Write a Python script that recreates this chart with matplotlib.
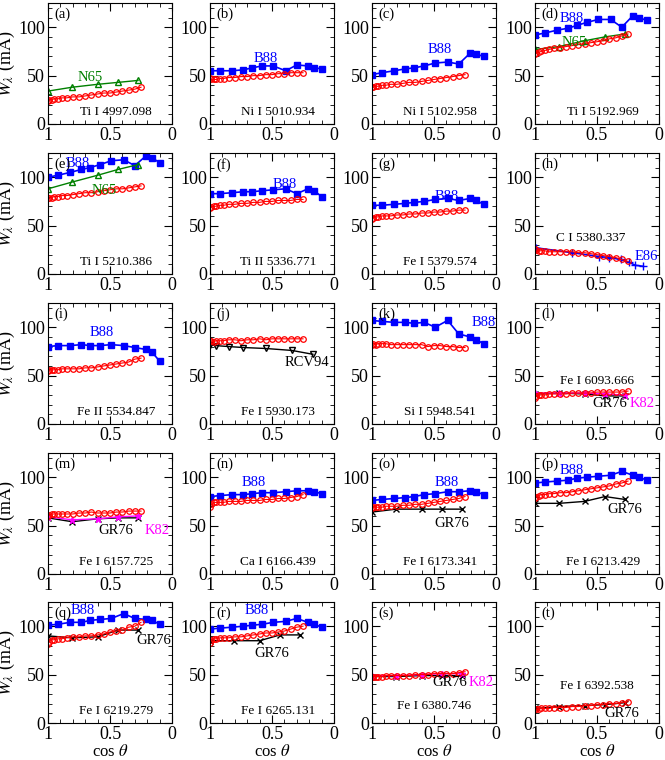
import matplotlib
matplotlib.use("Agg")
import matplotlib.pyplot as plt
from matplotlib.ticker import MultipleLocator

plt.rcParams['font.family'] = ['Liberation Serif', 'DejaVu Serif']
plt.rcParams['mathtext.fontset'] = 'stix'

mu_red = [1.0,0.99,0.97,0.95,0.92,0.89,0.85,0.8,0.75,0.7,0.65,0.6,0.55,0.5,0.45,0.4,0.35,0.3,0.25]
mu_b88 = [1.0,0.92,0.82,0.73,0.66,0.58,0.49,0.39,0.3,0.21,0.16,0.1]
mu_gr = [1.0,0.805,0.6,0.435,0.274]
mu_rcv = [1.0,0.955,0.85,0.73,0.55,0.34,0.17]
mu_e86 = [0.99,0.7,0.48,0.4,0.31,0.24,0.19,0.13]

letters = list("abcdefghijklmnopqrst")
line_ids = ["Ti I 4997.098","Ni I 5010.934","Ni I 5102.958","Ti I 5192.969",
            "Ti I 5210.386","Ti II 5336.771","Fe I 5379.574","C I 5380.337",
            "Fe II 5534.847","Fe I 5930.173","Si I 5948.541","Fe I 6093.666",
            "Fe I 6157.725","Ca I 6166.439","Fe I 6173.341","Fe I 6213.429",
            "Fe I 6219.279","Fe I 6265.131","Fe I 6380.746","Fe I 6392.538"]

red = {
 'a':[24,25,25,26,26,27,27,28,28,29,30,31,32,32,33,34,35,36,38],
 'b':[48,46,46,46,47,47,48,48,49,49,50,50,51,51,52,52,53,53,53],
 'c':[38,38,39,39,40,40,41,41,42,43,43,44,45,46,47,48,49,50,51],
 'd':[72,73,74,75,76,77,78,79,80,81,82,83,84,85,86,88,89,91,93],
 'e':[78,78,79,80,80,81,81,82,83,84,84,85,86,87,88,88,89,90,91],
 'f':[68,69,70,70,71,71,72,72,73,73,74,74,75,75,76,76,76,77,77],
 'g':[57,58,59,59,60,60,60,61,61,62,62,63,63,64,64,65,65,66,66],
 'h':[26,25,24,24,24,23,23,23,23,23,22,22,21,20,19,18,17,15,13],
 'i':[55,56,56,56,56,57,57,57,57,58,58,59,60,61,62,63,64,67,68],
 'j':[86,86,85,86,86,86,87,87,86,87,87,88,87,88,88,88,88,88,88],
 'k':[82,83,82,83,83,83,82,82,82,82,82,82,80,81,81,80,80,79,79],
 'l':[27,29,30,30,30,31,31,31,31,32,32,32,32,33,33,33,33,33,34],
 'm':[60,61,62,62,62,62,62,62,63,63,64,63,63,63,64,64,65,65,65],
 'n':[69,72,74,74,74,74,75,75,75,76,76,76,77,77,78,78,79,80,82],
 'o':[68,69,69,69,69,70,70,70,71,71,72,72,73,74,75,76,77,78,80],
 'p':[78,80,81,82,82,83,83,84,84,85,86,87,88,89,90,91,93,94,96],
 'q':[82,84,86,86,87,87,88,89,89,90,90,91,92,94,95,96,99,100,104],
 'r':[83,86,87,87,88,88,88,89,89,90,91,92,93,93,94,95,97,99,100],
 's':[48,48,48,48,48,49,49,49,49,49,50,50,50,51,51,51,51,52,53],
 't':[14,14,14,15,15,15,16,16,16,17,17,18,18,19,19,20,20,21,22],
}
b88 = {
 'b':[55,55,55,56,58,60,60,55,61,60,58,57],
 'c':[51,53,55,57,58,60,63,64,62,73,72,70],
 'd':[92,94,97,99,102,105,108,108,100,112,110,107],
 'e':[100,102,105,108,110,113,117,118,112,122,120,115],
 'f':[83,83,84,85,85,86,87,88,83,88,86,80],
 'g':[71,71,72,73,74,75,77,78,76,78,76,72],
 'i':[80,81,81,82,81,81,82,81,79,77,74,65],
 'k':[107,106,105,105,104,105,100,107,93,90,87,83],
 'n':[80,81,82,82,83,84,84,85,86,86,85,83],
 'o':[76,77,78,79,80,82,83,85,85,86,85,82],
 'p':[94,95,96,97,99,100,101,102,106,102,100,97],
 'q':[101,102,104,104,106,107,108,113,108,107,106,102],
 'r':[97,98,99,100,101,102,104,105,108,104,102,99],
}
n65 = {'a':[34,38,41,43,45], 'd':[77,80,86,90,93], 'e':[88,95,102,108,113]}
gr76 = {'l':[31,32,31,29,29], 'm':[58,54,57,58,58], 'o':[64,67,67,67,67],
        'p':[73,73,75,80,77], 'q':[90,88,89,96,96], 'r':[85,85,85,91,91],
        's':[48,48,49,49,49], 't':[15,17,18,19,21]}
k82 = {'l':[32,32,32,31,30], 'm':[59,56,57,59,60], 's':[49,49,50,51,51]}
rcv94 = {'j':[82,81,80,79,78,76,72]}
e86 = {'h':[27,22,18,17,15,12,9,8]}

labels = {
 'a':[("N65",0.66,48,'green')], 'b':[("B88",0.55,68,'blue')],
 'c':[("B88",0.45,77,'blue')], 'd':[("B88",0.7,109,'blue'),("N65",0.68,84,'green')],
 'e':[("B88",0.76,114,'blue'),("N65",0.55,86,'green')], 'f':[("B88",0.4,92,'blue')],
 'g':[("B88",0.4,80,'blue')], 'h':[("E86",0.1,18,'blue')],
 'i':[("B88",0.57,95,'blue')], 'j':[("RCV94",0.22,64,'black')],
 'k':[("B88",0.1,105,'blue')], 'l':[("GR76",0.4,21,'black'),("K82",0.14,21,'magenta')],
 'm':[("GR76",0.45,45,'black'),("K82",0.12,45,'magenta')], 'n':[("B88",0.65,95,'blue')],
 'o':[("B88",0.4,95,'blue'),("GR76",0.36,52,'black')],
 'p':[("B88",0.7,107,'blue'),("GR76",0.28,67,'black')],
 'q':[("B88",0.72,116,'blue'),("GR76",0.15,85,'black')],
 'r':[("B88",0.62,116,'blue'),("GR76",0.5,72,'black')],
 's':[("GR76",0.37,42,'black'),("K82",0.12,42,'magenta')],
 't':[("GR76",0.3,10,'black')],
}
id_pos = {'h':(0.55,37),'l':(0.5,44),'t':(0.5,38),'s':(0.5,18)}

W, H = 665, 760
fig = plt.figure(figsize=(W/100, H/100), dpi=100)
lefts = [48, 210, 372, 535]
tops = [3, 153, 303, 453, 602]
aw, ah = 124, 121
for idx, L in enumerate(letters):
    r, c = divmod(idx, 4)
    ax = fig.add_axes([lefts[c]/W, 1-(tops[r]+ah)/H, aw/W, ah/H])
    ax.set_xlim(1, 0)
    ax.set_ylim(0, 125)
    ax.xaxis.set_major_locator(MultipleLocator(0.5))
    ax.xaxis.set_minor_locator(MultipleLocator(0.1))
    ax.yaxis.set_major_locator(MultipleLocator(50))
    ax.yaxis.set_minor_locator(MultipleLocator(10))
    ax.tick_params(which='both', direction='in', top=True, right=True, labelsize=13, pad=2)
    ax.tick_params(which='major', length=6)
    ax.tick_params(which='minor', length=3)
    ax.xaxis.set_major_formatter(plt.FuncFormatter(lambda v, p: f"{v:g}"))
    if L in b88:
        ax.plot(mu_b88, b88[L], '-s', color='blue', ms=4, lw=1.2)
    if L in n65:
        ax.plot(mu_gr, n65[L], '-^', color='green', mfc='none', ms=4, lw=1)
    if L in gr76:
        ax.plot(mu_gr, gr76[L], '-x', color='black', ms=5, lw=1)
    if L in k82:
        ax.plot(mu_gr, k82[L], '-*', color='magenta', ms=5, lw=1)
    if L in rcv94:
        ax.plot(mu_rcv, rcv94[L], '-v', color='black', mfc='none', ms=4, lw=1)
    if L in e86:
        ax.plot(mu_e86, e86[L], '-+', color='blue', ms=6, lw=1.2)
    ax.plot(mu_red, red[L], '-o', color='red', mfc='none', ms=4, lw=0.8, mew=0.9)
    for t, x, y, col in labels.get(L, []):
        ax.text(x, y, t, color=col, fontsize=10.5, ha='center', va='center')
    ix, iy = id_pos.get(L, (0.45, 12))
    ax.text(ix, iy, line_ids[idx], fontsize=9.5, ha='center', va='center')
    ax.text(0.05, 0.96, f"({L})", transform=ax.transAxes, fontsize=10.5, ha='left', va='top')
    if c == 0:
        ax.set_ylabel(r"$W_\lambda$ (m$\mathrm{\AA}$)", fontsize=13, labelpad=1)
    if r == 4:
        ax.set_xlabel(r"cos $\theta$", fontsize=12, labelpad=1)

fig.savefig("out.png", dpi=100)
